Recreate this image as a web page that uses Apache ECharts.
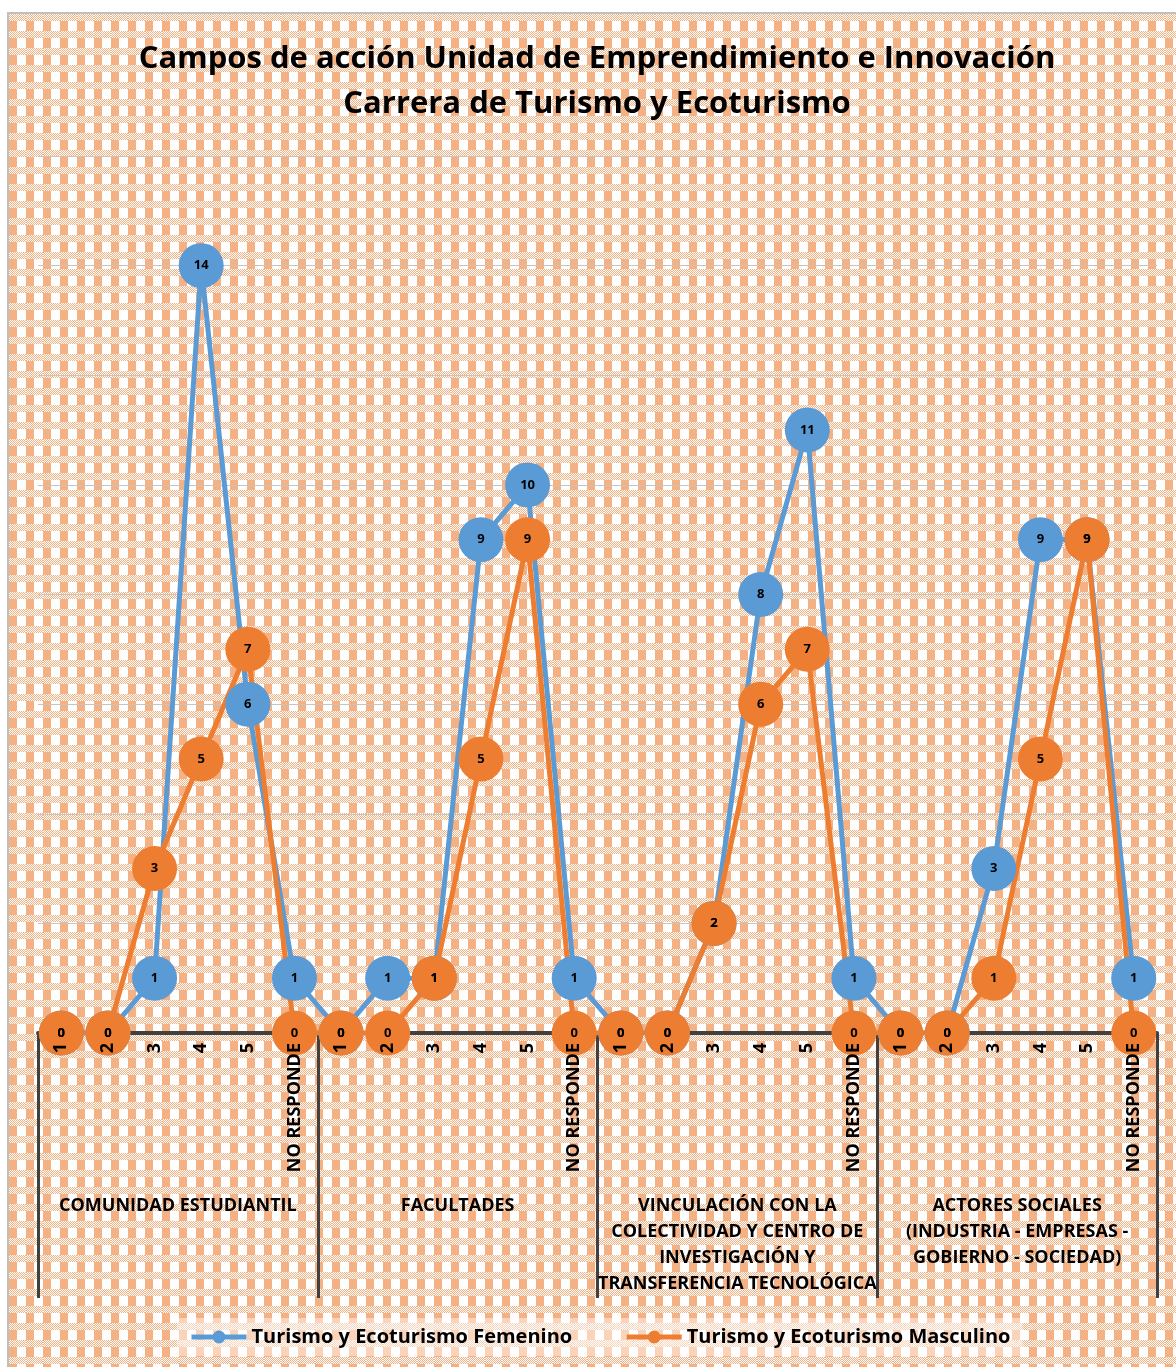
<!DOCTYPE html>
<html lang="es">
<head>
<meta charset="UTF-8">
<script src="https://cdn.jsdelivr.net/npm/echarts@6/dist/echarts.min.js"></script>
<title>Campos de acción</title>
<style>
    html, body {
        margin: 0;
        width: 100%;
        height: 100%;
        background: #fff;
        overflow: hidden;
    }
    #frame {
        position: absolute;
        left: 7px;
        top: 12px;
        width: 1180px;
        height: 1370px;
        border: 2px solid #bfbfbf;
        box-sizing: border-box;
    }
    #main {
        position: absolute;
        left: 0;
        top: 0;
        width: 1176px;
        height: 1367px;
    }
</style>
</head>
<body>
<div id="frame"></div>
<div id="main"></div>
<script>
    // datos
    var grupos = [
        'COMUNIDAD ESTUDIANTIL',
        'FACULTADES',
        'VINCULACIÓN CON LA\nCOLECTIVIDAD Y CENTRO DE\nINVESTIGACIÓN Y\nTRANSFERENCIA TECNOLÓGICA',
        'ACTORES SOCIALES\n(INDUSTRIA - EMPRESAS -\nGOBIERNO - SOCIEDAD)'
    ];
    var niveles = ['1', '2', '3', '4', '5', 'NO RESPONDE'];
    var femenino = [0, 0, 1, 14, 6, 1, 0, 1, 1, 9, 10, 1, 0, 0, 2, 8, 11, 1, 0, 0, 3, 9, 9, 1];
    var masculino = [0, 0, 3, 5, 7, 0, 0, 0, 1, 5, 9, 0, 0, 0, 2, 6, 7, 0, 0, 0, 1, 5, 9, 0];
    var serieNombres = ['Turismo y Ecoturismo Femenino', 'Turismo y Ecoturismo Masculino'];

    // categorias unicas: grupo_nivel
    var categorias = [];
    for (var g = 0; g < grupos.length; g++) {
        for (var n = 0; n < niveles.length; n++) {
            categorias.push(g + '_' + niveles[n]);
        }
    }

    // fondo con trama tipo excel
    var tile = document.createElement('canvas');
    tile.width = 17;
    tile.height = 17;
    var ctx = tile.getContext('2d');
    ctx.fillStyle = '#ffffff';
    ctx.fillRect(0, 0, 17, 17);
    ctx.fillStyle = '#f4b183';
    for (var y = 0; y < 17; y++) {
        for (var x = 0; x < 17; x++) {
            if (y < 7) {
                if ((x + y) % 2 === 0) ctx.fillRect(x, y, 1, 1);
            } else if (x < 8) {
                ctx.fillRect(x, y, 1, 1);
            }
        }
    }
    document.getElementById('frame').style.backgroundImage = 'url(' + tile.toDataURL() + ')';

    var fuente = '"Open Sans", "Noto Sans", sans-serif';
    var myChart = echarts.init(document.getElementById('main'));

    var etiquetaPunto = {
        show: true,
        position: 'inside',
        fontFamily: fuente,
        fontSize: 13,
        fontWeight: 'bold',
        color: '#000'
    };

    var option = {
        backgroundColor: 'transparent',
        animation: false,
        textStyle: {fontFamily: fuente},
        title: {
            text: 'Campos de acción Unidad de Emprendimiento e Innovación\nCarrera de Turismo y Ecoturismo',
            left: 597,
            top: 37,
            padding: 0,
            textAlign: 'center',
            textStyle: {
                fontFamily: fuente,
                fontSize: 31,
                fontWeight: 'bold',
                lineHeight: 45,
                color: '#000'
            }
        },
        legend: {
            bottom: 11,
            left: 177,
            padding: [9, 12],
            backgroundColor: 'rgba(255,255,255,0.45)',
            itemWidth: 55,
            itemHeight: 16,
            itemGap: 52,
            lineStyle: {width: 5},
            textStyle: {
                fontFamily: fuente,
                fontSize: 20,
                fontWeight: 'bold',
                color: '#000'
            },
            data: serieNombres
        },
        grid: {
            left: 38,
            right: 19,
            top: 156,
            bottom: 334,
            outerBoundsMode: 'none'
        },
        xAxis: [
            {
                // linea del eje
                type: 'category',
                data: categorias,
                boundaryGap: true,
                axisLine: {lineStyle: {color: '#404040', width: 4}},
                axisTick: {show: false},
                axisLabel: {show: false, interval: 0},
                z: 0
            },
            {
                // grupos y separadores
                type: 'category',
                data: grupos,
                position: 'bottom',
                boundaryGap: true,
                axisLine: {show: false},
                axisTick: {
                    show: true,
                    interval: 0,
                    length: 265,
                    lineStyle: {color: '#404040', width: 3}
                },
                axisLabel: {
                    interval: 0,
                    margin: 160,
                    verticalAlign: 'top',
                    lineHeight: 26,
                    overflow: 'none',
                    fontFamily: fuente,
                    fontSize: 18,
                    fontWeight: 'bold',
                    color: '#000'
                },
                z: 0
            },
            {
                // etiquetas 1..5 / NO RESPONDE encima de los circulos
                type: 'category',
                data: categorias,
                position: 'bottom',
                boundaryGap: true,
                axisLine: {show: false},
                axisTick: {show: false},
                axisLabel: {
                    interval: 0,
                    rotate: 90,
                    margin: 10,
                    overflow: 'none',
                    hideOverlap: false,
                    fontFamily: fuente,
                    fontSize: 18,
                    fontWeight: 'bold',
                    color: '#000',
                    formatter: function (v) {
                        return v.split('_')[1];
                    }
                },
                z: 10
            }
        ],
        yAxis: {
            type: 'value',
            min: 0,
            max: 16,
            interval: 2,
            axisLine: {show: false},
            axisTick: {show: false},
            axisLabel: {show: false},
            splitLine: {lineStyle: {color: '#c4c4c4', width: 1}}
        },
        series: [
            {
                name: serieNombres[0],
                type: 'line',
                data: femenino,
                symbol: 'circle',
                symbolSize: 45,
                showSymbol: true,
                showAllSymbol: true,
                color: '#5b9bd5',
                lineStyle: {width: 5, color: '#5b9bd5'},
                itemStyle: {color: '#5b9bd5'},
                label: etiquetaPunto,
                emphasis: {disabled: true}
            },
            {
                name: serieNombres[1],
                type: 'line',
                data: masculino,
                symbol: 'circle',
                symbolSize: 45,
                showSymbol: true,
                showAllSymbol: true,
                color: '#ed7d31',
                lineStyle: {width: 5, color: '#ed7d31'},
                itemStyle: {color: '#ed7d31'},
                label: etiquetaPunto,
                emphasis: {disabled: true}
            }
        ]
    };

    myChart.setOption(option);
    window.onresize = myChart.resize;
</script>
</body>
</html>
